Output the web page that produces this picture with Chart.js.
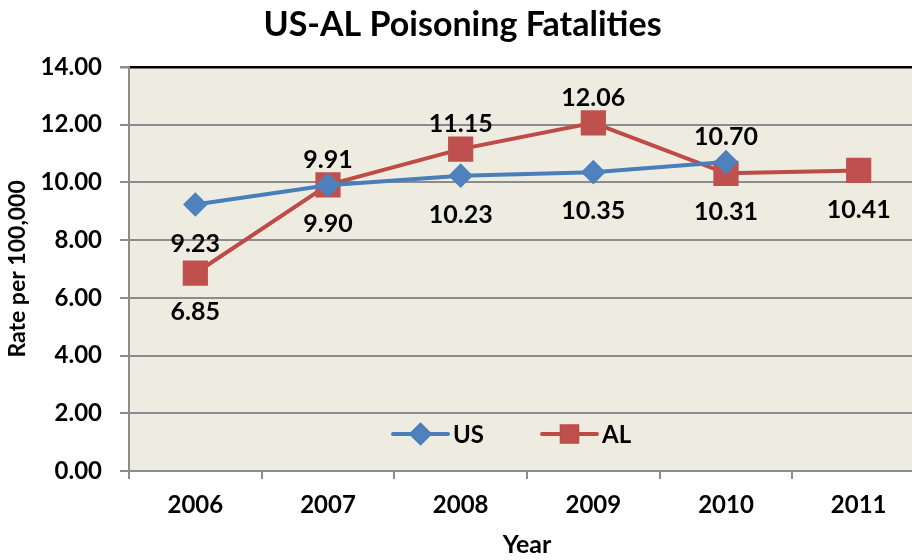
<!DOCTYPE html>
<html>
<head>
<meta charset="utf-8">
<script src="https://cdn.jsdelivr.net/npm/chart.js@4.4.1/dist/chart.umd.min.js"></script>
<style>
  html, body { margin: 0; padding: 0; background: #fff; overflow: hidden; }
  #wrap { width: 926px; height: 560px; }
</style>
</head>
<body>
<div id="wrap"><canvas id="chart" width="926" height="560"></canvas></div>
<script>
const years = ["2006", "2007", "2008", "2009", "2010", "2011"];
const usRates = [9.23, 9.90, 10.23, 10.35, 10.70, null];
const alRates = [6.85, 9.91, 11.15, 12.06, 10.31, 10.41];
// where each value label sits relative to its point
const usLabelPos = ["below", "below", "below", "below", "above", "below"];
const alLabelPos = ["below", "above", "above", "above", "below", "below"];

const FONT = "Lato, 'Open Sans', sans-serif";
const BLUE = "#4A7EBB";
const RED = "#BE4B48";

const plotBackground = {
    id: "plotBackground",
    beforeDraw(chart) {
        const { ctx, chartArea: a } = chart;
        ctx.save();
        ctx.fillStyle = "#EEECE1";
        ctx.fillRect(a.left, a.top, a.right - a.left, a.bottom - a.top);
        ctx.restore();
    }
};

const valueLabels = {
    id: "valueLabels",
    afterDatasetsDraw(chart) {
        const ctx = chart.ctx;
        ctx.save();
        ctx.font = "bold 25px " + FONT;
        ctx.fillStyle = "#000";
        ctx.textAlign = "center";
        ctx.textBaseline = "middle";
        chart.data.datasets.forEach((ds, i) => {
            const meta = chart.getDatasetMeta(i);
            meta.data.forEach((pt, j) => {
                const v = ds.data[j];
                if (v === null || v === undefined) return;
                const dy = ds.labelPos[j] === "above" ? -25 : 39;
                ctx.fillText(v.toFixed(2), pt.x, pt.y + dy);
            });
        });
        ctx.restore();
    }
};

const insideLegend = {
    id: "insideLegend",
    afterDraw(chart) {
        const ctx = chart.ctx;
        const a = chart.chartArea;
        const y = a.bottom - 37;
        ctx.save();
        ctx.font = "bold 24px " + FONT;
        ctx.textBaseline = "middle";
        ctx.textAlign = "left";
        const lineLen = 55;
        const gap = 5;
        const itemGap = 58;
        let x = 393;
        chart.data.datasets.forEach(ds => {
            ctx.strokeStyle = ds.borderColor;
            ctx.lineWidth = 4;
            ctx.lineCap = "round";
            ctx.beginPath();
            ctx.moveTo(x, y);
            ctx.lineTo(x + lineLen, y);
            ctx.stroke();
            Chart.helpers.drawPoint(ctx, {
                pointStyle: ds.pointStyle,
                radius: ds.pointStyle === "rect" ? 11 : 9,
                borderWidth: 1
            }, x + lineLen / 2, y);
            ctx.fillStyle = ds.pointBackgroundColor;
            ctx.fill();
            ctx.fillStyle = "#000";
            ctx.fillText(ds.label, x + lineLen + gap, y + 1);
            x += lineLen + gap + ctx.measureText(ds.label).width + itemGap;
        });
        ctx.restore();
    }
};

new Chart(document.getElementById("chart"), {
    type: "line",
    data: {
        labels: years,
        datasets: [
            {
                label: "US",
                data: usRates,
                labelPos: usLabelPos,
                borderColor: BLUE,
                backgroundColor: "#4F81BD",
                pointBackgroundColor: "#4F81BD",
                pointBorderColor: "#4F81BD",
                borderWidth: 4,
                pointStyle: "rectRot",
                pointRadius: 9.5,
                tension: 0,
                spanGaps: false
            },
            {
                label: "AL",
                data: alRates,
                labelPos: alLabelPos,
                borderColor: RED,
                backgroundColor: "#C0504D",
                pointBackgroundColor: "#C0504D",
                pointBorderColor: "#C0504D",
                borderWidth: 4,
                pointStyle: "rect",
                pointRadius: 15,
                tension: 0
            }
        ]
    },
    options: {
        responsive: false,
        animation: false,
        // plot area runs past the window's right edge, as in the original
        layout: { autoPadding: false, padding: { left: 0, right: 1, top: 0, bottom: 0 } },
        plugins: {
            legend: { display: false },
            tooltip: { enabled: false },
            title: {
                display: true,
                text: "US-AL Poisoning Fatalities",
                color: "#000",
                font: { family: FONT, size: 34, weight: "bold", lineHeight: 1.2 },
                padding: { top: 5, bottom: 21 }
            }
        },
        scales: {
            x: {
                offset: true,
                grid: {
                    offset: true,
                    drawOnChartArea: false,
                    drawTicks: true,
                    tickLength: 8,
                    color: "#8C8C8C",
                    lineWidth: 2
                },
                border: { display: false },
                ticks: {
                    color: "#000",
                    font: { family: FONT, size: 24, weight: "bold" },
                    padding: 12,
                    maxRotation: 0
                },
                title: {
                    display: true,
                    text: "Year",
                    color: "#000",
                    font: { family: FONT, size: 25, weight: "bold" },
                    padding: { top: 0, bottom: 0 }
                },
                afterFit(scale) {
                    scale.height = 89;
                    scale.paddingLeft = 0;
                    scale.paddingRight = 0;
                }
            },
            y: {
                min: 0,
                max: 14,
                ticks: {
                    stepSize: 2,
                    color: "#000",
                    font: { family: FONT, size: 24, weight: "bold" },
                    padding: 18,
                    callback: v => v.toFixed(2)
                },
                grid: {
                    color: ctx => (ctx.tick && ctx.tick.value === 14 ? "#000" : "#8C8C8C"),
                    lineWidth: ctx => (ctx.tick && ctx.tick.value === 14 ? 2.5 : 2),
                    tickColor: "#8C8C8C",
                    tickLength: 9
                },
                border: { color: "#8C8C8C", width: 2 },
                title: {
                    display: true,
                    text: "Rate per 100,000",
                    color: "#000",
                    font: { family: FONT, size: 23, weight: "bold" },
                    padding: { top: 4, bottom: 0 }
                },
                afterFit(scale) {
                    scale.width = 129;
                    scale.paddingTop = 0;
                    scale.paddingBottom = 0;
                }
            }
        }
    },
    plugins: [plotBackground, valueLabels, insideLegend]
});
</script>
</body>
</html>
